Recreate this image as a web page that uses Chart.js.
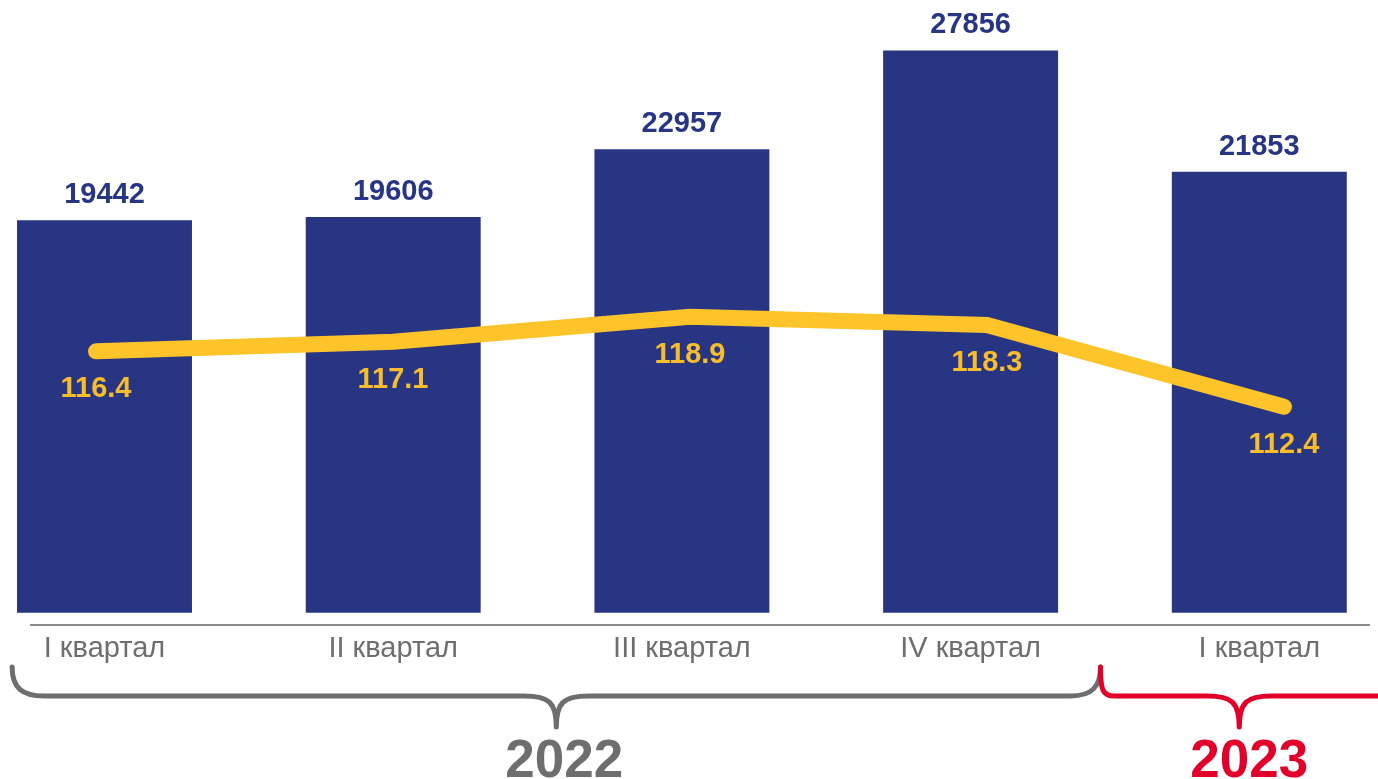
<!DOCTYPE html>
<html><head><meta charset="utf-8">
<script src="https://cdn.jsdelivr.net/npm/chart.js@4"></script>
<style>html,body{margin:0;padding:0;background:#fff;overflow:hidden}#wrap{width:1378px;height:779px;position:relative}</style>
</head><body><div id="wrap"><canvas id="c"></canvas></div>
<script>
// ---- data ----
const categories = ['I квартал', 'II квартал', 'III квартал', 'IV квартал', 'I квартал'];
const volumes = [19442, 19606, 22957, 27856, 21853];
const indexValues = [116.4, 117.1, 118.9, 118.3, 112.4];
const years = ['2022', '2023'];
const yearLastCategory = [3, 4];

// ---- style ----
const FONT = '"Liberation Sans", Arial, Helvetica, sans-serif';
const BLUE = '#283583';
const YELLOW = '#FFC42A';
const YELLOW_TXT = '#F8BD2B';
const GREY = '#6E6E6E';
const RED = '#E2002A';

const decor = {
  id: 'decor',
  afterDatasetsDraw(chart) {
    const ctx = chart.ctx;
    const ca = chart.chartArea;
    const xs = chart.scales.x;
    ctx.save();
    // axis line
    ctx.strokeStyle = '#8C8C8C';
    ctx.lineWidth = 2;
    ctx.beginPath();
    ctx.moveTo(30, ca.bottom);
    ctx.lineTo(chart.width - 8, ca.bottom);
    ctx.stroke();

    // bar value labels
    const bm = chart.getDatasetMeta(0);
    ctx.font = 'bold 29px ' + FONT;
    ctx.fillStyle = BLUE;
    ctx.textAlign = 'center';
    ctx.textBaseline = 'alphabetic';
    bm.data.forEach((el, i) => ctx.fillText(String(volumes[i]), el.x, el.y - 17));

    // line value labels
    const lm = chart.getDatasetMeta(1);
    ctx.fillStyle = YELLOW_TXT;
    lm.data.forEach((el, i) => ctx.fillText(indexValues[i].toFixed(1), el.x, el.y + 46));

    // braces
    const step = xs.getPixelForValue(1) - xs.getPixelForValue(0);
    const g0 = xs.getPixelForValue(0) - 0.32 * step;
    const j = xs.getPixelForValue(yearLastCategory[0]) + 0.45 * step;
    const r1 = chart.width + 5;
    const yTop = ca.bottom + 42, yL = ca.bottom + 71, yTip = ca.bottom + 102;
    ctx.lineWidth = 5;
    ctx.lineCap = 'round';
    ctx.lineJoin = 'round';
    function mid(xm) {
      ctx.lineTo(xm - 32, yL);
      ctx.bezierCurveTo(xm - 8, yL, xm, yL + 6, xm, yTip);
      ctx.moveTo(xm, yTip);
      ctx.bezierCurveTo(xm, yL + 6, xm + 8, yL, xm + 32, yL);
    }
    // grey
    ctx.strokeStyle = GREY;
    ctx.beginPath();
    ctx.moveTo(g0, yTop);
    ctx.bezierCurveTo(g0, yL - 8, g0 + 10, yL, g0 + 32, yL);
    const gm = (g0 + j) / 2;
    mid(gm);
    ctx.lineTo(j - 30, yL);
    ctx.bezierCurveTo(j - 8, yL, j, yL - 10, j, yTop);
    ctx.stroke();
    // red
    ctx.strokeStyle = RED;
    ctx.beginPath();
    ctx.moveTo(j, yTop);
    ctx.bezierCurveTo(j, yL - 6, j + 2, yL, j + 14, yL);
    const rm = (j + chart.width) / 2;
    mid(rm);
    ctx.lineTo(r1, yL);
    ctx.stroke();

    // year labels
    ctx.font = 'bold 53px ' + FONT;
    ctx.textBaseline = 'alphabetic';
    ctx.fillStyle = GREY;
    ctx.fillText(years[0], gm + 8, chart.height - 2);
    ctx.fillStyle = RED;
    ctx.fillText(years[1], rm + 10, chart.height - 2);
    ctx.restore();
  }
};

new Chart(document.getElementById('c'), {
  type: 'bar',
  data: {
    labels: categories,
    datasets: [
      {
        type: 'bar', label: 'volume', data: volumes,
        backgroundColor: BLUE, borderWidth: 0, grouped: false,
        categoryPercentage: 1, barPercentage: 0.606,
        xAxisID: 'x', yAxisID: 'y', order: 1, clip: false
      },
      {
        type: 'line', label: 'index',
        data: indexValues.map((v, i) => ({ x: i, y: v })),
        borderColor: YELLOW, borderWidth: 16, borderCapStyle: 'round', borderJoinStyle: 'miter',
        pointRadius: 0, tension: 0, fill: false,
        xAxisID: 'x2', yAxisID: 'y2', order: 0, clip: false
      }
    ]
  },
  options: {
    responsive: true, maintainAspectRatio: false, animation: false,
    devicePixelRatio: 1,
    layout: { padding: { left: 104.5, right: 118.7, top: 0, bottom: 0 } },
    plugins: { legend: { display: false }, tooltip: { enabled: false } },
    scales: {
      x: {
        type: 'category', offset: false,
        grid: { display: false, drawTicks: false, offset: false }, border: { display: false },
        ticks: { color: GREY, font: { family: FONT, size: 29 }, padding: 7, maxRotation: 0, autoSkip: false },
        afterFit(s) { s.height = 154; }
      },
      x2: { type: 'linear', display: false, offset: false, bounds: 'data', grid: { offset: false }, min: 0.0286, max: 3.917 },
      y: { display: false, min: -610, max: 30357 },
      y2: { display: false, position: 'right', min: 96.64, max: 141.77 }
    }
  },
  plugins: [decor]
});
</script>
</body></html>
